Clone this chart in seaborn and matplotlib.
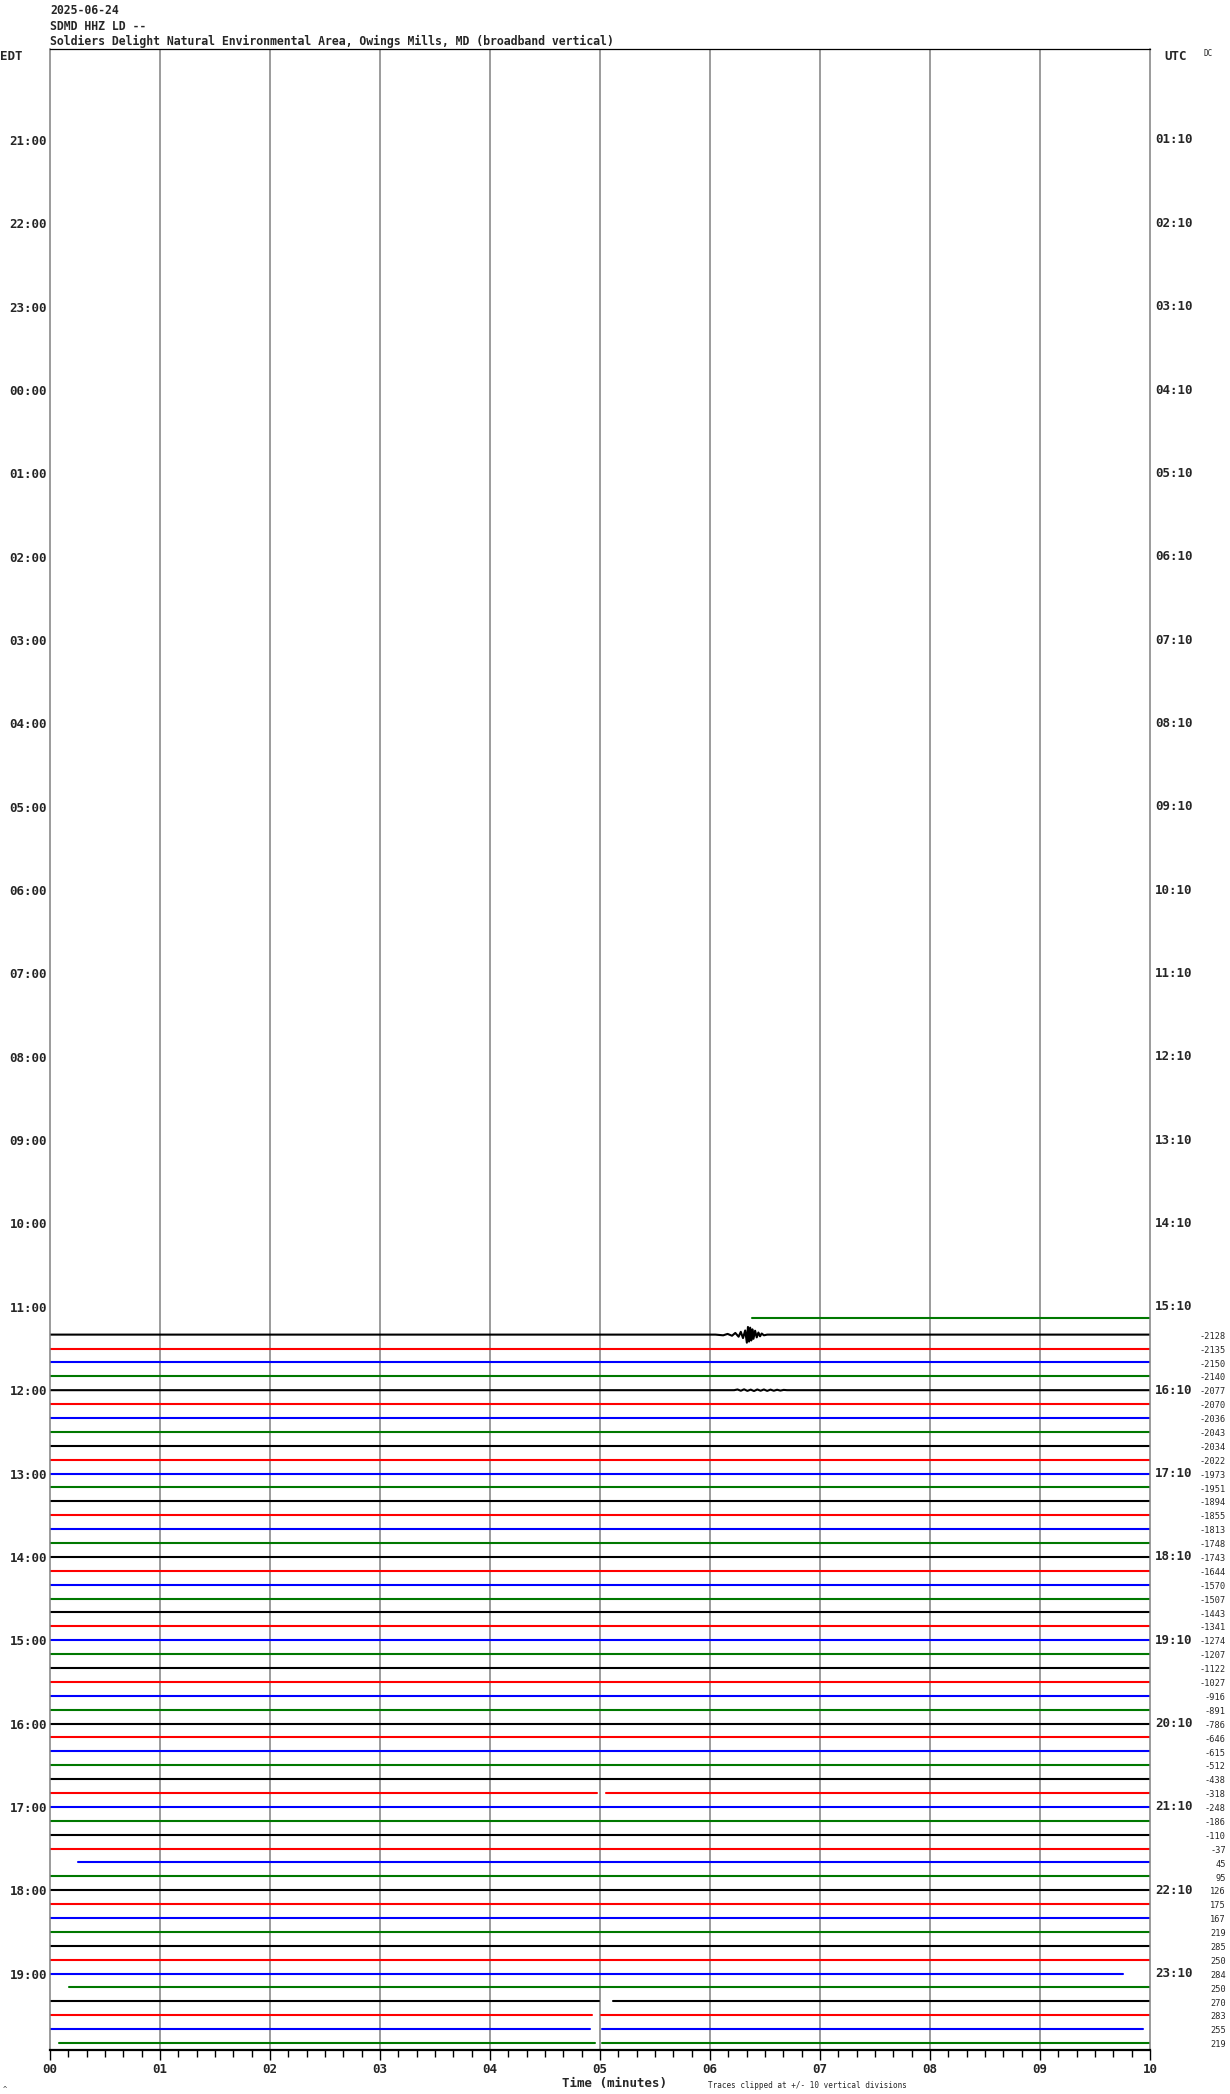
import numpy as np
import pandas as pd
import matplotlib
matplotlib.use('Agg')
import matplotlib.pyplot as plt
import matplotlib.transforms as mtransforms
import seaborn as sns

title_lines = ['2025-06-24', 'SDMD HHZ LD --',
               'Soldiers Delight Natural Environmental Area, Owings Mills, MD (broadband vertical)']

# left (EDT) and right (UTC) row labels, one every 6 rows (hour)
edt_labels = ['EDT', '21:00', '22:00', '23:00', '00:00', '01:00', '02:00', '03:00', '04:00',
              '05:00', '06:00', '07:00', '08:00', '09:00', '10:00', '11:00', '12:00',
              '13:00', '14:00', '15:00', '16:00', '17:00', '18:00', '19:00']
utc_labels = ['UTC', '01:10', '02:10', '03:10', '04:10', '05:10', '06:10', '07:10', '08:10',
              '09:10', '10:10', '11:10', '12:10', '13:10', '14:10', '15:10', '16:10',
              '17:10', '18:10', '19:10', '20:10', '21:10', '22:10', '23:10']
minute_labels = ['00', '01', '02', '03', '04', '05', '06', '07', '08', '09', '10']

# rows 92..143 carry full traces; value = trace mean printed on the right
first_row = 92
trace_means = [-2128, -2135, -2150, -2140, -2077, -2070, -2036, -2043, -2034, -2022,
               -1973, -1951, -1894, -1855, -1813, -1748, -1743, -1644, -1570, -1507,
               -1443, -1341, -1274, -1207, -1122, -1027, -916, -891, -786, -646,
               -615, -512, -438, -318, -248, -186, -110, -37, 45, 95,
               126, 175, 167, 219, 285, 250, 284, 250, 270, 283, 255, 219]

# partial trace in row 91 (green, no label)
partial_row = 91
partial_start, partial_end = 6.38, 10.0
partial_offset = -0.2

# trace start/end times (minutes) that differ from 0/10, and data gaps
trace_start = {130: 0.25, 139: 0.17, 143: 0.08}
trace_end = {138: 9.75, 142: 9.94}
trace_gaps = {125: (4.97, 5.05), 140: (4.99, 5.12), 141: (4.93, 5.01),
              142: (4.91, 5.02), 143: (4.95, 5.02)}

# the local event on row 92 (minutes, deflection in rows)
event_min = [6.05, 6.12, 6.16, 6.20, 6.23, 6.26, 6.28, 6.30, 6.32, 6.335, 6.345, 6.355,
             6.365, 6.375, 6.385, 6.395, 6.41, 6.425, 6.44, 6.455, 6.47, 6.49, 6.52]
event_amp = [0.0, 0.05, -0.05, 0.08, -0.12, 0.15, -0.2, 0.25, -0.3, 0.58, -0.55, 0.5,
             -0.5, 0.42, -0.38, 0.3, -0.28, 0.2, -0.15, 0.12, -0.08, 0.05, 0.0]
# weak arrival on row 96
small_row = 96
small_min = [6.22, 6.25, 6.28, 6.31, 6.34, 6.37, 6.40, 6.43, 6.46, 6.49, 6.52, 6.55,
             6.58, 6.61, 6.64, 6.67, 6.70]
small_amp = [0.0, -0.05, 0.04, -0.06, 0.05, -0.04, 0.06, -0.05, 0.04, -0.05, 0.05,
             -0.04, 0.04, -0.03, 0.03, -0.02, 0.0]

trace_colors = ['black', 'red', 'blue', 'green']
palette = {'black': '#000000', 'red': '#ff0000', 'blue': '#0000ff', 'green': '#007800'}

# --- build long-form table of line segments ---
recs = []
seg = 0


def add_segment(xs, ys, color):
    global seg
    for x, y in zip(xs, ys):
        recs.append({'minute': x, 'level': y, 'color': color, 'seg': seg})
    seg += 1


add_segment([partial_start, partial_end],
            [partial_row + partial_offset] * 2, trace_colors[partial_row % 4])

for i, mean in enumerate(trace_means):
    r = first_row + i
    c = trace_colors[r % 4]
    t0 = trace_start.get(r, 0.0)
    t1 = trace_end.get(r, 10.0)
    if r == first_row:
        xs = [t0] + event_min + [t1]
        ys = [r] + [r + a for a in event_amp] + [r]
        add_segment(xs, ys, c)
    elif r == small_row:
        xs = [t0] + small_min + [t1]
        ys = [r] + [r + a for a in small_amp] + [r]
        add_segment(xs, ys, c)
    elif r in trace_gaps:
        g0, g1 = trace_gaps[r]
        add_segment([t0, g0], [r, r], c)
        add_segment([g1, t1], [r, r], c)
    else:
        add_segment([t0, t1], [r, r], c)

df = pd.DataFrame(recs)

# --- figure ---
sns.set_style('white')
plt.rcParams['font.family'] = ['DejaVu Sans Mono', 'DejaVu Sans']

W, H = 1230, 2094
fig = plt.figure(figsize=(W / 100, H / 100), dpi=100)
ax = fig.add_axes([50 / W, 44 / H, 1100 / W, 2001 / H])

sns.lineplot(data=df, x='minute', y='level', hue='color', palette=palette,
             units='seg', estimator=None, sort=False, legend=False,
             linewidth=1.5, ax=ax)

ax.set_xlim(0, 10)
ax.set_ylim(143.5, -0.55)

# minute grid
ax.set_xticks(range(11))
ax.set_xticklabels(minute_labels, fontsize=9, fontweight='bold')
ax.set_xticks(np.arange(0, 10.01, 1 / 6), minor=True)
ax.tick_params(axis='x', which='major', direction='out', length=7.2, width=1,
               color='black', pad=2, bottom=True)
ax.tick_params(axis='x', which='minor', direction='out', length=5, width=1,
               color='black', bottom=True)
for m in range(1, 10):
    ax.axvline(m, color='#808080', lw=1.1, zorder=0)

# left hour labels (the first, EDT, sits at the figure edge)
hour_rows = list(range(0, 144, 6))
ax.set_yticks(hour_rows)
ax.set_yticklabels([''] + edt_labels[1:], fontsize=9, fontweight='bold')
ax.tick_params(axis='y', length=0, pad=2)
ax.set_xlabel('')
ax.set_ylabel('')

for s in ['left', 'right']:
    ax.spines[s].set_color('#808080')
    ax.spines[s].set_linewidth(1.1)
ax.spines['top'].set_color('black')
ax.spines['top'].set_linewidth(0.9)
ax.spines['bottom'].set_color('black')
ax.spines['bottom'].set_linewidth(1.6)

# right UTC labels
rt = mtransforms.blended_transform_factory(fig.transFigure, ax.transData)
for r, lab in zip(hour_rows[1:], utc_labels[1:]):
    ax.text(1155 / W, r, lab, transform=rt, ha='left', va='center',
            fontsize=9, fontweight='bold')

# trace mean values
for i, mean in enumerate(trace_means):
    ax.text(1226 / W, first_row + i + 0.12, str(mean), transform=rt, ha='right',
            va='center', fontsize=6.2)

# header and corner texts
for k, line in enumerate(title_lines):
    fig.text(50 / W, 1 - (11 + 15 * k) / H, line, ha='left', va='center',
             fontsize=8.3, fontweight='bold')
fig.text(0 / W, 1 - 56 / H, edt_labels[0], ha='left', va='center', fontsize=9, fontweight='bold')
fig.text(1164 / W, 1 - 56 / H, utc_labels[0], ha='left', va='center', fontsize=9, fontweight='bold')
fig.text(1204 / W, 1 - 53 / H, 'DC', ha='left', va='center', fontsize=5.5)
fig.text(615 / W, 1 - 2084 / H, 'Time (minutes)', ha='center', va='center',
         fontsize=9, fontweight='bold')
fig.text(708 / W, 1 - 2085 / H, 'Traces clipped at +/- 10 vertical divisions',
         ha='left', va='center', fontsize=5.5)
fig.text(3 / W, 1 - 2089 / H, '^', ha='left', va='center', fontsize=5)

fig.savefig('out.png', dpi=100)
